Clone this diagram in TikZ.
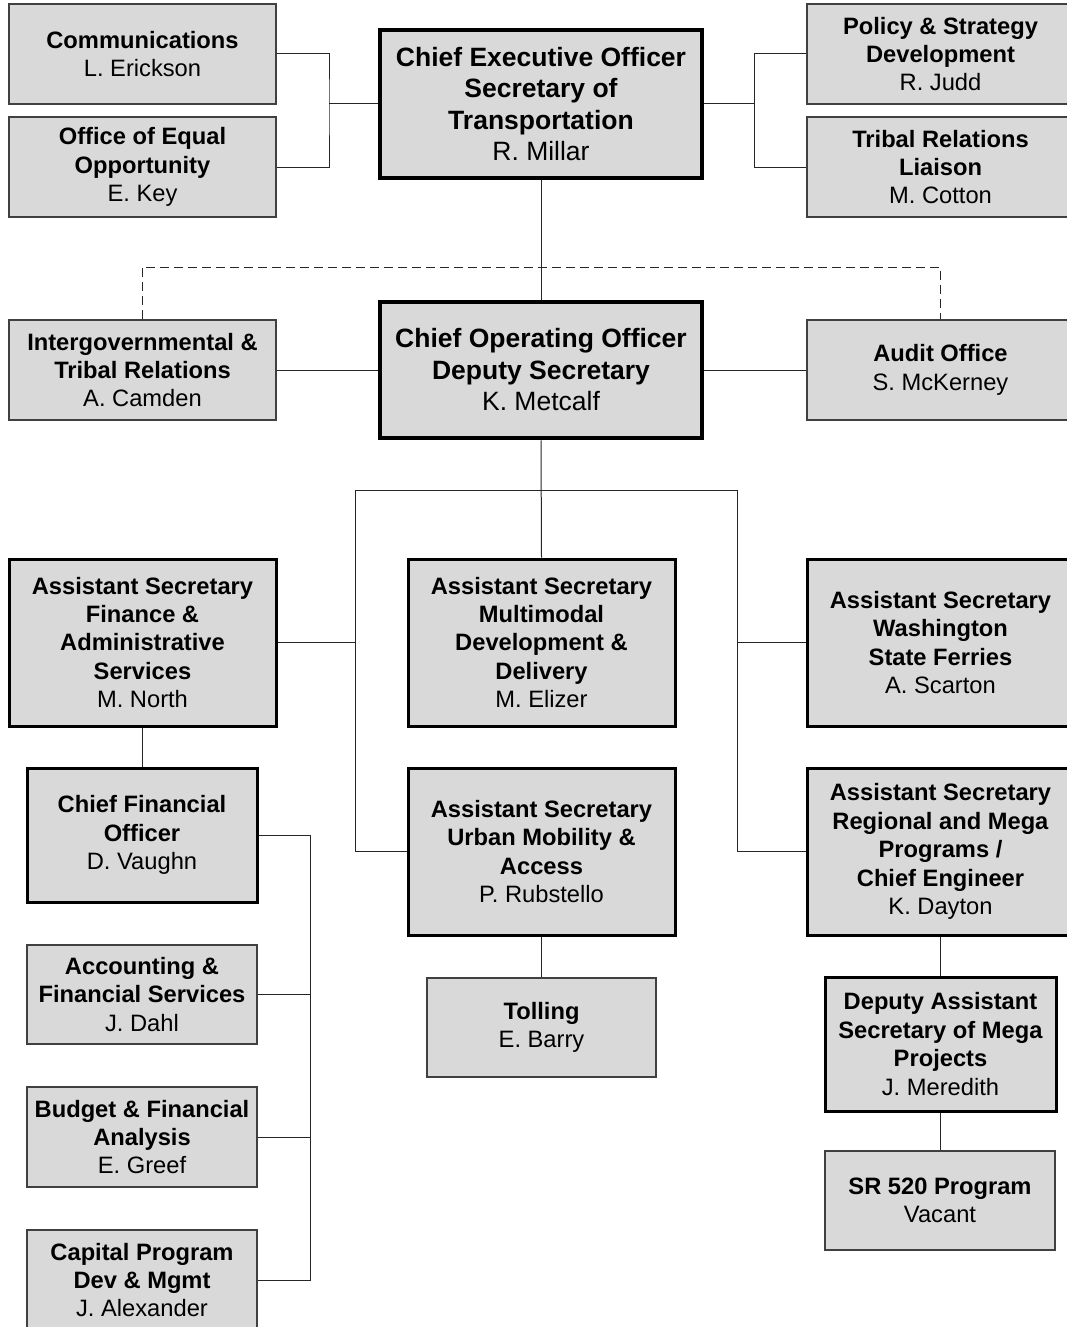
\documentclass[tikz,border=0pt]{standalone}
\usepackage{fontspec}
\setmainfont{Liberation Sans}
\begin{document}
\begin{tikzpicture}[x=1pt,y=1pt,
  base/.style={rectangle, fill=gray!30, inner sep=0pt, align=center,
    font=\fontsize{23.7}{28.4}\selectfont},
  thinbox/.style={base, draw=black!75, line width=1.1pt},
  midbox/.style={base, draw=black, line width=3pt},
  bigbox/.style={base, draw=black, line width=4.5pt,
    font=\fontsize{26.5}{31.5}\selectfont},
  wide/.style={minimum width=267pt},
  narrow/.style={minimum width=230pt},
  conn/.style={draw=black!85, line width=1pt},
  dashconn/.style={draw=black!85, line width=1pt, dash pattern=on 9pt off 5pt}
]
\useasboundingbox (0,0) rectangle (1066,-1327);

% top row
\node[thinbox, wide, minimum height=100pt] (comm) at (142.5,-54) {\textbf{Communications}\\L. Erickson};
\node[thinbox, wide, minimum height=100pt] (oeo) at (142.5,-167) {\textbf{Office of Equal}\\\textbf{Opportunity}\\E. Key};
\node[bigbox, minimum width=322pt, minimum height=148pt] (ceo) at (541,-104) {\textbf{Chief Executive Officer}\\\textbf{Secretary of}\\\textbf{Transportation}\\R. Millar};
\node[thinbox, wide, minimum height=100pt] (policy) at (940.5,-54) {\textbf{Policy \& Strategy}\\\textbf{Development}\\R. Judd};
\node[thinbox, wide, minimum height=100pt] (tribal) at (940.5,-167) {\textbf{Tribal Relations}\\\textbf{Liaison}\\M. Cotton};

% second row
\node[bigbox, minimum width=322pt, minimum height=136pt] (coo) at (541,-370) {\textbf{Chief Operating Officer}\\\textbf{Deputy Secretary}\\K. Metcalf};
\node[thinbox, wide, minimum height=100pt] (intergov) at (142.5,-370) {\textbf{Intergovernmental \&}\\\textbf{Tribal Relations}\\A. Camden};
\node[thinbox, wide, minimum height=100pt] (audit) at (940.5,-370) {\textbf{Audit Office}\\S. McKerney};

% assistant secretaries
\node[midbox, wide, minimum height=167pt] (asfin) at (142.5,-642.5) {\textbf{Assistant Secretary}\\\textbf{Finance \&}\\\textbf{Administrative}\\\textbf{Services}\\M. North};
\node[midbox, wide, minimum height=167pt] (multi) at (541.5,-642.5) {\textbf{Assistant Secretary}\\\textbf{Multimodal}\\\textbf{Development \&}\\\textbf{Delivery}\\M. Elizer};
\node[midbox, wide, minimum height=167pt] (wsf) at (940.5,-642.5) {\textbf{Assistant Secretary}\\\textbf{Washington}\\\textbf{State Ferries}\\A. Scarton};
\node[midbox, wide, minimum height=167pt] (urban) at (541.5,-851.5) {\textbf{Assistant Secretary}\\\textbf{Urban Mobility \&}\\\textbf{Access}\\P. Rubstello};
\node[midbox, wide, minimum height=167pt] (regional) at (940.5,-851.5) {\textbf{Assistant Secretary}\\\textbf{Regional and Mega}\\\textbf{Programs /}\\\textbf{Chief Engineer}\\K. Dayton};

% finance branch
\node[midbox, narrow, minimum height=134pt] (cfo) at (142,-835) {\textbf{Chief Financial}\\\textbf{Officer}\\D. Vaughn};
\node[thinbox, narrow, minimum height=99pt] (acct) at (142,-994.5) {\textbf{Accounting \&}\\\textbf{Financial Services}\\J. Dahl};
\node[thinbox, narrow, minimum height=100pt] (budget) at (142,-1137) {\textbf{Budget \& Financial}\\\textbf{Analysis}\\E. Greef};
\node[thinbox, narrow, minimum height=100pt] (capital) at (142,-1280) {\textbf{Capital Program}\\\textbf{Dev \& Mgmt}\\J. Alexander};

% urban branch
\node[thinbox, minimum width=229pt, minimum height=99pt] (tolling) at (541.5,-1027.5) {\textbf{Tolling}\\E. Barry};

% mega branch
\node[midbox, minimum width=231pt, minimum height=134pt] (deputy) at (940.5,-1044) {\textbf{Deputy Assistant}\\\textbf{Secretary of Mega}\\\textbf{Projects}\\J. Meredith};
\node[thinbox, narrow, minimum height=99pt] (sr) at (940,-1200.5) {\textbf{SR 520 Program}\\Vacant};

% junction coordinates
\coordinate (jL) at (329,-104);
\coordinate (jR) at (754,-104);
\coordinate (jD) at (541,-267);
\coordinate (bL) at (355,-490);
\coordinate (bR) at (737,-490);
\coordinate (fB) at (310,-1280);

% connectors
\draw[conn] (comm.east) -| (jL) |- (oeo.east);
\draw[conn] (jL) -- (ceo.west);
\draw[conn] (policy.west) -| (jR) |- (tribal.west);
\draw[conn] (ceo.east) -- (jR);
\draw[conn] (ceo.south) -- (coo.north);
\draw[dashconn] (intergov.north) -- (intergov.north |- jD) -- (audit.north |- jD) -- (audit.north);
\draw[conn] (intergov.east) -- (coo.west);
\draw[conn] (coo.east) -- (audit.west);
\draw[conn] (coo.south) -- (multi.north);
\draw[conn] (urban.west) -| (bL) -- (bR) |- (regional.west);
\draw[conn] (asfin.east) -- (asfin.east -| bL);
\draw[conn] (wsf.west) -- (wsf.west -| bR);
\draw[conn] (asfin.south) -- (asfin.south |- cfo.north);
\draw[conn] (cfo.east) -| (fB) -- (capital.east);
\draw[conn] (acct.east) -- (acct.east -| fB);
\draw[conn] (budget.east) -- (budget.east -| fB);
\draw[conn] (urban.south) -- (tolling.north);
\draw[conn] (regional.south) -- (regional.south |- deputy.north);
\draw[conn] (deputy.south) -- (deputy.south |- sr.north);
\end{tikzpicture}
\end{document}
